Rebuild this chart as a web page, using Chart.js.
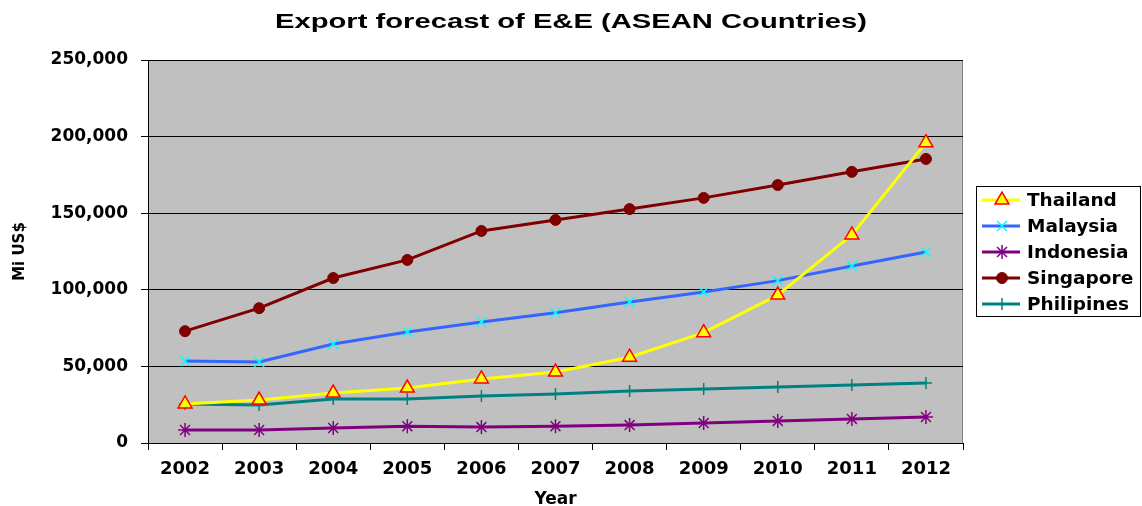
<!DOCTYPE html>
<html>
<head>
<meta charset="utf-8">
<script src="https://cdn.jsdelivr.net/npm/chart.js@4/dist/chart.umd.min.js"></script>
<style>
  body { margin: 0; background: #fff; }
</style>
</head>
<body>
<canvas id="chart" width="1142" height="506"></canvas>
<script>
// data (Mi US$)
const years = ["2002", "2003", "2004", "2005", "2006", "2007", "2008", "2009", "2010", "2011", "2012"];
const thailand = [25500, 28000, 32600, 35900, 41800, 46300, 56000, 72000, 96600, 135800, 196000];
const malaysia = [53500, 52900, 64600, 72500, 79000, 85000, 92000, 98600, 106000, 115500, 124700];
const indonesia = [8500, 8500, 9800, 11000, 10400, 11000, 11700, 13000, 14400, 15700, 17000];
const singapore = [73000, 88000, 107700, 119500, 138400, 145600, 152700, 160000, 168400, 177000, 185400];
const philipines = [25500, 24800, 28700, 28700, 30700, 32000, 34000, 35200, 36500, 37900, 39200];
const yTicks = [0, 50000, 100000, 150000, 200000, 250000];

const titleText = "Export forecast of E&E (ASEAN Countries)";

// grey plot area + frame
const plotBg = {
  id: "plotBg",
  beforeDraw(chart) {
    const a = chart.chartArea;
    const ctx = chart.ctx;
    ctx.save();
    ctx.fillStyle = "#C0C0C0";
    ctx.fillRect(a.left, a.top, a.right - a.left, a.bottom - a.top);
    ctx.strokeStyle = "#808080";
    ctx.lineWidth = 1;
    ctx.strokeRect(a.left + 0.5, a.top + 0.5, a.right - a.left - 1, a.bottom - a.top);
    ctx.restore();
  }
};

// title and legend box drawn by hand
const extras = {
  id: "extras",
  afterDraw(chart) {
    const ctx = chart.ctx;
    ctx.save();
    // the original picture is stretched sideways, so stretch the title too
    ctx.translate(571, 22);
    ctx.scale(1.39, 1);
    ctx.fillStyle = "#000";
    ctx.font = "bold 21px 'Liberation Sans'";
    ctx.textAlign = "center";
    ctx.textBaseline = "middle";
    ctx.fillText(titleText, 0, 0);
    ctx.restore();

    ctx.save();
    // legend
    const bx = 976, by = 186, bw = 164, bh = 130;
    ctx.fillStyle = "#fff";
    ctx.fillRect(bx, by, bw, bh);
    ctx.strokeStyle = "#000";
    ctx.lineWidth = 1;
    ctx.strokeRect(bx + 0.5, by + 0.5, bw, bh);

    chart.data.datasets.forEach((ds, i) => {
      const y = 200 + i * 26;
      ctx.strokeStyle = ds.borderColor;
      ctx.lineWidth = 3;
      ctx.beginPath();
      ctx.moveTo(982, y);
      ctx.lineTo(1020, y);
      ctx.stroke();
      ctx.fillStyle = ds.pointBackgroundColor;
      ctx.strokeStyle = ds.pointBorderColor;
      ctx.lineWidth = ds.pointBorderWidth;
      Chart.helpers.drawPoint(ctx, {
        pointStyle: ds.pointStyle,
        radius: ds.pointRadius,
        rotation: 0,
        borderWidth: ds.pointBorderWidth
      }, 1002, y);
      ctx.fillStyle = "#000";
      ctx.font = "bold 18.5px 'DejaVu Sans'";
      ctx.textAlign = "left";
      ctx.textBaseline = "middle";
      ctx.fillText(ds.label, 1027, y + 1);
    });
    ctx.restore();
  }
};

function series(label, data, line, style, radius, fill, edge, edgeWidth) {
  return {
    label: label,
    data: data,
    borderColor: line,
    borderWidth: 3,
    tension: 0,
    pointStyle: style,
    pointRadius: radius,
    pointHoverRadius: radius,
    pointBackgroundColor: fill,
    pointBorderColor: edge,
    pointBorderWidth: edgeWidth
  };
}

new Chart(document.getElementById("chart"), {
  type: "line",
  data: {
    labels: years,
    datasets: [
      series("Thailand", thailand, "#FFFF00", "triangle", 8, "#FFFF00", "#FF0000", 1.5),
      series("Malaysia", malaysia, "#3366FF", "crossRot", 7, "#00FFFF", "#00FFFF", 1.5),
      series("Indonesia", indonesia, "#800080", "star", 7, "#800080", "#800080", 1.5),
      series("Singapore", singapore, "#800000", "circle", 5.5, "#800000", "#800000", 1),
      series("Philipines", philipines, "#008080", "cross", 6, "#008080", "#008080", 1.5)
    ]
  },
  options: {
    responsive: false,
    animation: false,
    layout: { padding: { top: 60, right: 179, left: 0, bottom: 0 } },
    plugins: {
      legend: { display: false },
      title: { display: false },
      tooltip: { enabled: false }
    },
    scales: {
      x: {
        offset: true,
        afterFit(s) { s.height = 63; },
        grid: { offset: true, drawOnChartArea: false, drawTicks: true, tickLength: 7, color: "#000" },
        border: { display: true, color: "#000" },
        ticks: { color: "#000", font: { family: "'DejaVu Sans'", weight: "bold", size: 18 }, padding: 9, maxRotation: 0 },
        title: { display: true, text: "Year", color: "#000", font: { family: "'DejaVu Sans'", weight: "bold", size: 17 }, padding: { top: 0, bottom: -4 } }
      },
      y: {
        min: 0,
        max: 250000,
        afterFit(s) { s.width = 148; },
        afterBuildTicks(s) { s.ticks = yTicks.map(v => ({ value: v })); },
        grid: { color: "#000", tickLength: 7 },
        border: { display: true, color: "#000" },
        ticks: {
          color: "#000",
          padding: 13,
          font: { family: "'DejaVu Sans'", weight: "bold", size: 17 },
          callback: v => v.toLocaleString("en-US")
        },
        title: { display: true, text: "Mi US$", color: "#000", font: { family: "'DejaVu Sans'", weight: "bold", size: 15 }, padding: { top: 11, bottom: 0 } }
      }
    }
  },
  plugins: [plotBg, extras]
});
</script>
</body>
</html>
